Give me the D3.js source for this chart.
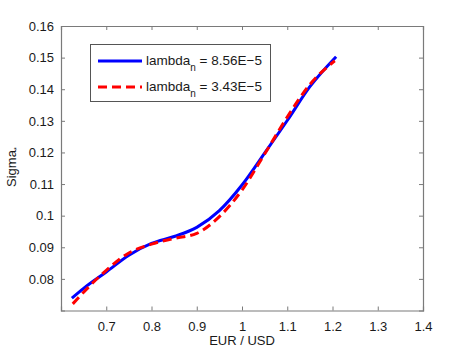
<!DOCTYPE html>
<html lang="en">
  <head>
    <meta charset="UTF-8" />
    <title>Sigma vs EUR/USD</title>
    <script src="https://d3js.org/d3.v7.min.js"></script>
    <style>
      body { margin: 0; background: #fff; }
      svg { display: block; font-family: "Liberation Sans", Arial, sans-serif; }
      .axis path, .axis line { stroke: #7a7a7a; }
      .axis text { fill: #1a1a1a; font-size: 13px; }
    </style>
  </head>
  <body>
    <script>
      const blueX = [0.624, 0.65, 0.7, 0.75, 0.8, 0.85, 0.9, 0.95, 1.0, 1.05, 1.1, 1.15, 1.208];
      const blueY = [0.0739, 0.0770, 0.0822, 0.0875, 0.0912, 0.0934, 0.0963, 0.1016, 0.1097, 0.1198, 0.1301, 0.1408, 0.1503];
      const redX = [0.626, 0.65, 0.7, 0.75, 0.8, 0.85, 0.9, 0.95, 1.0, 1.05, 1.1, 1.15, 1.205];
      const redY = [0.0721, 0.0758, 0.0827, 0.0882, 0.0910, 0.0928, 0.0944, 0.0997, 0.1081, 0.1195, 0.1312, 0.1415, 0.1490];
      const xTicks = [0.7, 0.8, 0.9, 1, 1.1, 1.2, 1.3, 1.4];
      const yTicks = [0.08, 0.09, 0.1, 0.11, 0.12, 0.13, 0.14, 0.15, 0.16];
      const legendLabels = ["8.56E\u22125", "3.43E\u22125"];

      const W = 467, H = 350;
      const m = { left: 61, right: 44, top: 26, bottom: 39.5 };

      const svg = d3.select("body").append("svg").attr("width", W).attr("height", H);

      const x = d3.scaleLinear().domain([0.6, 1.4]).range([m.left, W - m.right]);
      const y = d3.scaleLinear().domain([0.07, 0.16]).range([H - m.bottom, m.top]);

      const fmt = d => String(+d.toFixed(2));

      // axes with inward ticks (MATLAB box style)
      svg.append("g").attr("class", "axis")
        .attr("transform", `translate(0,${y(0.07)})`)
        .call(d3.axisBottom(x).tickValues(xTicks).tickSize(-4).tickPadding(11).tickFormat(fmt));
      svg.append("g").attr("class", "axis")
        .attr("transform", `translate(0,${y(0.16)})`)
        .call(d3.axisTop(x).tickValues(xTicks).tickSize(-4).tickFormat(""));
      svg.append("g").attr("class", "axis")
        .attr("transform", `translate(${x(0.6)},0)`)
        .call(d3.axisLeft(y).tickValues(yTicks).tickSize(-4).tickPadding(7).tickFormat(fmt));
      svg.append("g").attr("class", "axis")
        .attr("transform", `translate(${x(1.4)},0)`)
        .call(d3.axisRight(y).tickValues(yTicks).tickSize(-4).tickFormat(""));
      svg.selectAll(".axis .domain").attr("stroke-width", 1.2);

      const line = d3.line().curve(d3.curveMonotoneX);

      svg.append("path")
        .attr("d", line(blueX.map((v, i) => [x(v), y(blueY[i])])))
        .attr("fill", "none").attr("stroke", "#0000ff").attr("stroke-width", 3);
      svg.append("path")
        .attr("d", line(redX.map((v, i) => [x(v), y(redY[i])])))
        .attr("fill", "none").attr("stroke", "#ff0000").attr("stroke-width", 3)
        .attr("stroke-dasharray", "9,5");

      // labels
      svg.append("text").attr("x", x(1.0)).attr("y", 345)
        .attr("text-anchor", "middle").attr("font-size", 13).attr("fill", "#1a1a1a")
        .text("EUR / USD");
      const yl = svg.append("text")
        .attr("transform", `translate(16,${167}) rotate(-90)`)
        .attr("text-anchor", "middle").attr("font-size", 13).attr("fill", "#1a1a1a");
      yl.append("tspan").text("Sigma");
      yl.append("tspan").attr("font-size", 8).attr("dy", 3).text("*");

      // legend
      const lg = svg.append("g");
      lg.append("rect").attr("x", 90.5).attr("y", 44.5).attr("width", 180).attr("height", 57)
        .attr("fill", "#fff").attr("stroke", "#555").attr("stroke-width", 1);
      const colors = ["#0000ff", "#ff0000"];
      const dashes = [null, "9,5"];
      legendLabels.forEach((lab, i) => {
        const ly = 61 + i * 26;
        lg.append("line").attr("x1", 98).attr("x2", 142).attr("y1", ly).attr("y2", ly)
          .attr("stroke", colors[i]).attr("stroke-width", 3).attr("stroke-dasharray", dashes[i]);
        const t = lg.append("text").attr("x", 146).attr("y", ly + 4)
          .attr("font-size", 13.5).attr("fill", "#1a1a1a");
        t.append("tspan").text("lambda");
        t.append("tspan").attr("font-size", 10).attr("dy", 6).text("n");
        t.append("tspan").attr("dy", -6).text(" = " + lab);
      });
    </script>
  </body>
</html>
